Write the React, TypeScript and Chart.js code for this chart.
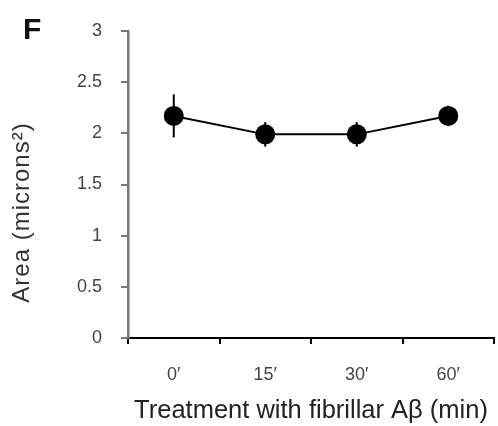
import React, { useEffect, useRef } from "react";
import { Chart, registerables } from "chart.js";

Chart.register(...registerables);

const categories = ["0′", "15′", "30′", "60′"];
const meanArea = [2.17, 1.99, 1.99, 2.17];
const errArea = [0.21, 0.12, 0.12, 0.1];
const yTicks = [0, 0.5, 1, 1.5, 2, 2.5, 3];
const xTitle = "Treatment with fibrillar Aβ (min)";
const yTitle = "Area (microns²)";
const panelLabel = "F";

const FONT = "'Liberation Sans', Arial, Helvetica, sans-serif";

const errorBarPlugin = {
  id: "errorBars",
  afterDatasetsDraw(chart: any) {
    const ctx = chart.ctx;
    const x = chart.scales.x;
    const y = chart.scales.y;
    ctx.save();
    ctx.strokeStyle = "#000";
    ctx.lineWidth = 2;
    meanArea.forEach((m, i) => {
      const px = x.getPixelForValue(i);
      ctx.beginPath();
      ctx.moveTo(px, y.getPixelForValue(m - errArea[i]));
      ctx.lineTo(px, y.getPixelForValue(m + errArea[i]));
      ctx.stroke();
    });
    ctx.restore();
  },
};

const textPlugin = {
  id: "extraText",
  afterDraw(chart: any) {
    const ctx = chart.ctx;
    const area = chart.chartArea;
    ctx.save();
    ctx.fillStyle = "#333";
    ctx.font = `24px ${FONT}`;
    (ctx as any).letterSpacing = "1px";
    ctx.textAlign = "center";
    ctx.textBaseline = "middle";
    ctx.translate(22, (area.top + area.bottom) / 2 + 28);
    ctx.rotate(-Math.PI / 2);
    ctx.fillText(yTitle, 0, 0);
    ctx.restore();
    ctx.save();
    ctx.fillStyle = "#111";
    ctx.font = `bold 30px ${FONT}`;
    ctx.textAlign = "left";
    ctx.textBaseline = "middle";
    ctx.fillText(panelLabel, 23, 31);
    ctx.restore();
  },
};

export default function App() {
  const ref = useRef<HTMLCanvasElement | null>(null);

  useEffect(() => {
    document.body.style.margin = "0";
    if (!ref.current) return;
    const chart = new Chart(ref.current, {
      type: "line",
      data: {
        labels: categories,
        datasets: [
          {
            data: meanArea,
            borderColor: "#000",
            borderWidth: 2,
            backgroundColor: "#000",
            pointRadius: 10,
            pointBackgroundColor: "#000",
            pointBorderWidth: 0,
            tension: 0,
            clip: false,
          },
        ],
      },
      options: {
        animation: false,
        responsive: false,
        maintainAspectRatio: false,
        layout: { autoPadding: false, padding: { left: 0, right: 4, top: 31, bottom: 0 } },
        plugins: {
          legend: { display: false },
          tooltip: { enabled: false },
        },
        scales: {
          x: {
            type: "category",
            offset: true,
            grid: {
              offset: true,
              drawOnChartArea: false,
              drawTicks: true,
              tickLength: 6,
              color: "#000",
              lineWidth: 2,
            },
            border: { display: true, color: "#000", width: 2 },
            ticks: {
              color: "#444",
              font: { family: FONT, size: 18 },
              padding: 20,
              maxRotation: 0,
            },
            title: {
              display: true,
              text: xTitle,
              color: "#222",
              font: { family: FONT, size: 25.5 },
              padding: { top: 4, bottom: 0 },
            },
            afterFit: (s: any) => {
              s.height = 88;
              s.paddingLeft = 0;
              s.paddingRight = 0;
            },
          },
          y: {
            min: 0,
            max: 3,
            afterBuildTicks: (s: any) => {
              s.ticks = yTicks.map((v) => ({ value: v }));
            },
            grid: {
              drawOnChartArea: false,
              drawTicks: true,
              tickLength: 7,
              color: "#777",
              lineWidth: 2,
            },
            border: { display: true, color: "#777", width: 2.5 },
            ticks: {
              color: "#444",
              font: { family: FONT, size: 18 },
              padding: 19,
              callback: (v: any) => String(v),
            },
            afterFit: (s: any) => {
              s.width = 128;
              s.paddingTop = 0;
              s.paddingBottom = 0;
            },
          },
        },
      },
      plugins: [errorBarPlugin, textPlugin],
    });
    return () => chart.destroy();
  }, []);

  return (
    <div style={{ position: "fixed", left: 0, top: 0, width: 498, height: 426, background: "#fff" }}>
      <canvas ref={ref} width={498} height={426} style={{ width: 498, height: 426 }} />
    </div>
  );
}
